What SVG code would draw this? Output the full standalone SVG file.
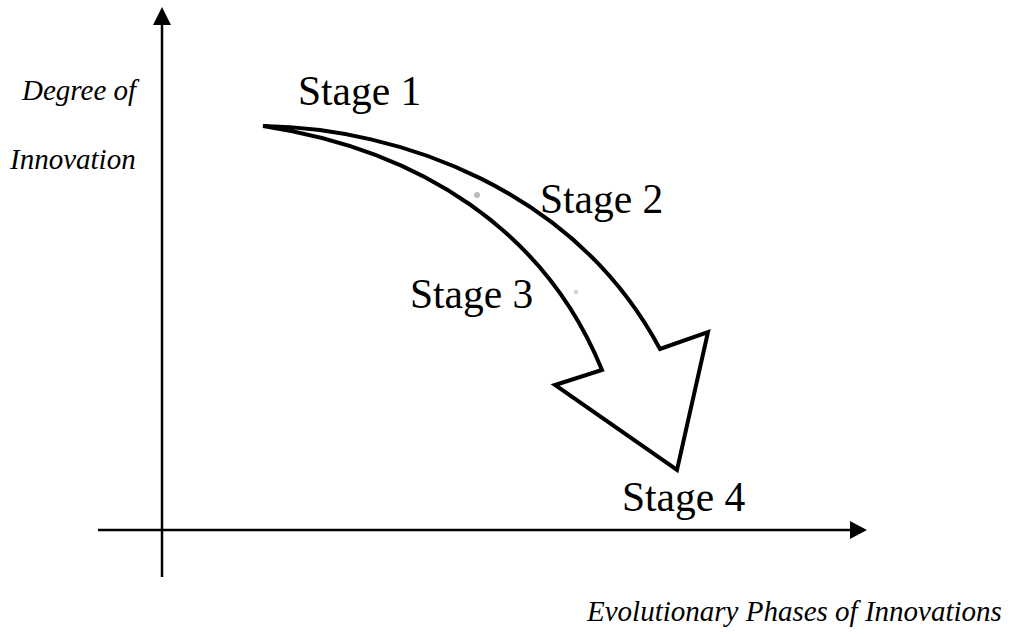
<svg xmlns="http://www.w3.org/2000/svg" width="1015" height="634" viewBox="0 0 1015 634">
<style>
.ax{stroke:#000;stroke-width:2.5;fill:none}
.lbl{font-family:"Liberation Serif",serif;font-size:41.5px;fill:#000}
.it{font-family:"Liberation Serif",serif;font-style:italic;font-size:29px;fill:#000}
.arr{fill:#fff;stroke:#000;stroke-width:4;stroke-linejoin:miter}
</style>
<rect width="1015" height="634" fill="#fff"/>
<g id="connectors">
<line class="ax" x1="162" y1="577" x2="162" y2="22"/>
<polygon points="162,7 153,25 171,25" fill="#000"/>
<line class="ax" x1="98" y1="530" x2="852" y2="530"/>
<polygon points="867,530 850,521 850,539" fill="#000"/>
</g>
<g id="arrow">
<path class="arr" d="M263,126 C400,128 575,190 660,349 L708,332 L677,470 L555,385 L602,370 C545,230 420,150 263,126 Z"/>
<circle cx="477" cy="195" r="3" fill="#bbb"/>
<circle cx="576" cy="292" r="2" fill="#ccc"/>
</g>
<g id="stage1"><text class="lbl" x="298" y="105">Stage 1</text></g>
<g id="stage2"><text class="lbl" x="540" y="213">Stage 2</text></g>
<g id="stage3"><text class="lbl" x="410" y="308">Stage 3</text></g>
<g id="stage4"><text class="lbl" x="622" y="511">Stage 4</text></g>
<g id="ylabel">
<text class="it" x="22" y="100">Degree of</text>
<text class="it" x="10" y="169">Innovation</text>
</g>
<g id="xlabel"><text class="it" x="587" y="621">Evolutionary Phases of Innovations</text></g>
</svg>
